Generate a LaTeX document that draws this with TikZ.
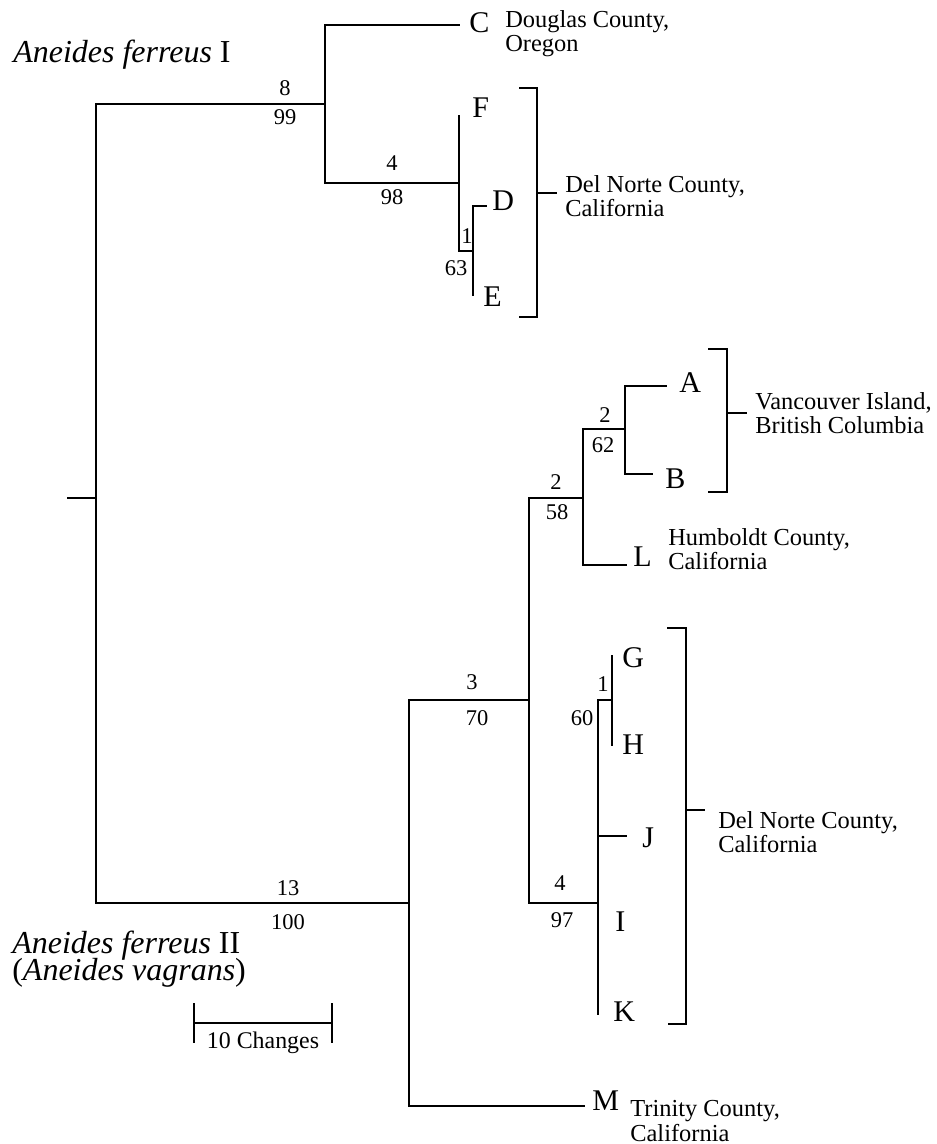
\documentclass[tikz,border=0pt]{standalone}
\usepackage{fontspec}
\setmainfont{Liberation Serif}
\usetikzlibrary{positioning}
\lineskiplimit=-20pt
\tikzset{
  branch/.style={line width=0.8pt},
  brk/.style={line width=0.8pt},
  taxon/.style={font=\fontsize{17.1}{17}\selectfont,inner sep=0pt,anchor=west},
  supp/.style={font=\fontsize{12.8}{13}\selectfont,inner sep=0pt},
  locality/.style={font=\fontsize{13.9}{13.7}\selectfont,inner sep=0pt,anchor=west,align=left},
  clade/.style={font=\fontsize{18.2}{15}\selectfont,inner sep=0pt,align=left},
  barlbl/.style={font=\fontsize{13.6}{14}\selectfont,inner sep=0pt},
}
\begin{document}
\begin{tikzpicture}[x=0.02cm,y=-0.02cm]
  \useasboundingbox (0,0) rectangle (937,1144);
  % internal nodes
  \coordinate (stub) at (67,498);
  \coordinate (root) at (96,498);
  \coordinate (nI) at (325,104);
  \coordinate (nFDE) at (459,183);
  \coordinate (nDE) at (473,251);
  \coordinate (nII) at (409,903);
  \coordinate (nAK) at (529,700);
  \coordinate (nABL) at (583,498);
  \coordinate (nAB) at (625,429);
  \coordinate (nGK) at (598,903);
  \coordinate (nGH) at (612,700);
  % branch tips
  \coordinate (tC) at (460,25);
  \coordinate (tF) at (459,115);
  \coordinate (tD) at (487,206);
  \coordinate (tE) at (473,296);
  \coordinate (tA) at (667,386);
  \coordinate (tB) at (653,474);
  \coordinate (tL) at (627,565);
  \coordinate (tG) at (612,655);
  \coordinate (tH) at (612,746);
  \coordinate (tJ) at (627,836);
  \coordinate (tK) at (598,1015);
  \coordinate (tM) at (585,1106);
  % branches
  \draw[branch] (stub) -- (root);
  \foreach \p/\c in {root/nI,root/nII,nI/tC,nI/nFDE,nFDE/tF,nFDE/nDE,nDE/tD,nDE/tE,
      nII/nAK,nII/tM,nAK/nABL,nAK/nGK,nABL/nAB,nABL/tL,nAB/tA,nAB/tB,
      nGK/nGH,nGK/tJ,nGK/tK,nGH/tG,nGH/tH}
    \draw[branch] (\p) |- (\c);
  % taxa
  \node[taxon] (C) at (469,23) {C};
  \node[taxon] (F) at (472,108) {F};
  \node[taxon] (D) at (492,201) {D};
  \node[taxon] (E) at (483,297) {E};
  \node[taxon] (A) at (679,383) {A};
  \node[taxon] (B) at (665,479) {B};
  \node[taxon] (L) at (633,557) {L};
  \node[taxon] (G) at (622,658) {G};
  \node[taxon] (H) at (622,745) {H};
  \node[taxon] (J) at (642,838) {J};
  \node[taxon] (I) at (615,922) {I};
  \node[taxon] (K) at (613,1012) {K};
  \node[taxon] (M) at (592,1101) {M};
  % changes above, bootstrap below
  \node[supp] (c8) at (285,88) {8};
  \node[supp] (b99) at (285,117) {99};
  \node[supp] (c4a) at (392,163) {4};
  \node[supp] (b98) at (392,197) {98};
  \node[supp] (c1a) at (467,236) {1};
  \node[supp] (b63) at (456,268) {63};
  \node[supp] (c13) at (288,888) {13};
  \node[supp] (b100) at (288,922) {100};
  \node[supp] (c3) at (472,682) {3};
  \node[supp] (b70) at (477,718) {70};
  \node[supp] (c2a) at (556,482) {2};
  \node[supp] (b58) at (557,512) {58};
  \node[supp] (c2b) at (605,415) {2};
  \node[supp] (b62) at (603,445) {62};
  \node[supp] (c1b) at (603,684) {1};
  \node[supp] (b60) at (582,718) {60};
  \node[supp] (c4b) at (560,883) {4};
  \node[supp] (b97) at (562,920) {97};
  % brackets
  \draw[brk] (519,88) -| (537,317) -- (519,317);
  \draw[brk] (537,193) -- (557,193);
  \draw[brk] (708,349) -| (727,492) -- (708,492);
  \draw[brk] (727,413) -- (747,413);
  \draw[brk] (667,628) -| (686,1024) -- (668,1024);
  \draw[brk] (686,810) -- (705,810);
  % localities
  \node[locality] (locC) at (505,34) {Douglas County,\\Oregon};
  \node[locality] (locFDE) at (565,196) {Del Norte County,\\California};
  \node[locality] (locAB) at (755,413) {Vancouver Island,\\British Columbia};
  \node[locality] (locL) at (668,549) {Humboldt County,\\California};
  \node[locality] (locGK) at (718,832) {Del Norte County,\\California};
  \node[locality] (locM) at (630,1121) {Trinity County,\\California};
  % species
  \node[clade,anchor=base west] (spI) at (13,62) {\textit{Aneides ferreus} I};
  \node[clade,anchor=west] (spII) at (12,959) {\textit{Aneides ferreus} II\\(\textit{Aneides vagrans})};
  % scale bar
  \coordinate (barL) at (194,1023);
  \coordinate (barR) at (332,1023);
  \draw[branch] (barL) -- (barR);
  \draw[branch] (194,1003) -- (194,1043);
  \draw[branch] (332,1003) -- (332,1043);
  \node[barlbl,anchor=base] (bar) at (263,1048) {10 Changes};
\end{tikzpicture}
\end{document}
